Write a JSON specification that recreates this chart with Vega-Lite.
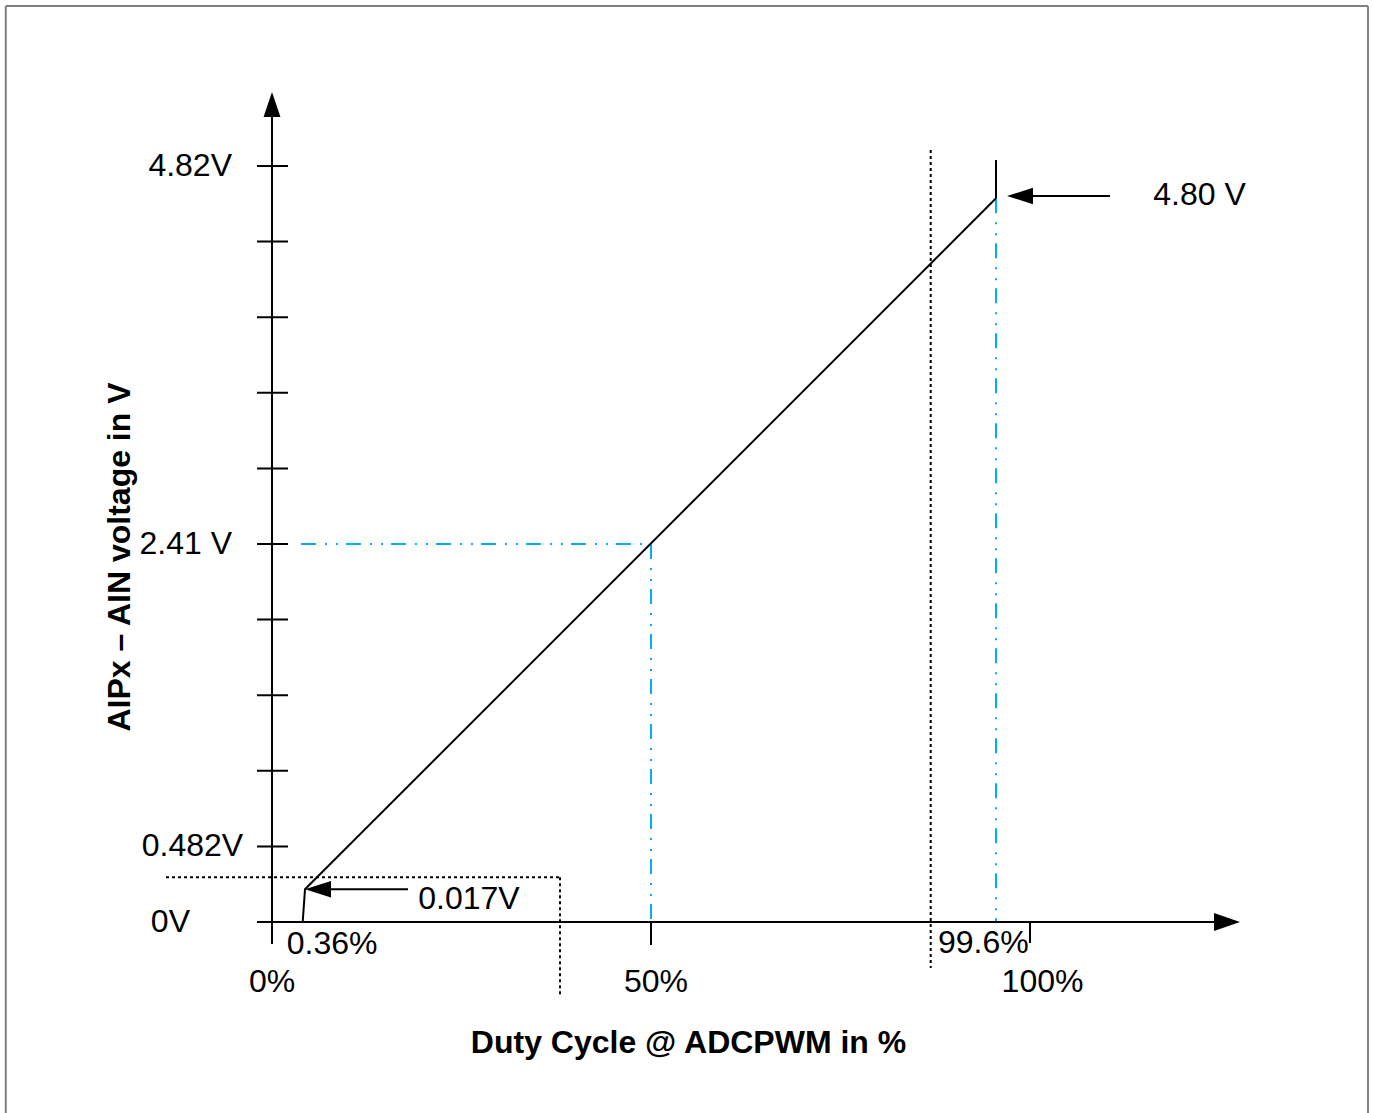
{
  "$schema": "https://vega.github.io/schema/vega-lite/v6.json",
  "width": 1373,
  "height": 1113,
  "padding": 0,
  "autosize": "none",
  "background": "white",
  "view": {"stroke": null},
  "config": {"text": {"font": "Liberation Sans"}},
  "datasets": {
    "frame": [
      {"x": -35.12, "y": 5.84, "x2": -35.12, "y2": -1.2177},
      {"x": -35.12, "y": 5.84, "x2": 144.59, "y2": 5.84},
      {"x": 144.59, "y": 5.84, "x2": 144.59, "y2": -1.2177}
    ],
    "solid": [
      {"x": 0, "y": -0.1403, "x2": 0, "y2": 5.25},
      {"x": -1.979, "y": 0, "x2": 126.9, "y2": 0},
      {"x": -1.979, "y": 0.482, "x2": 2.111, "y2": 0.482},
      {"x": -1.979, "y": 0.964, "x2": 2.111, "y2": 0.964},
      {"x": -1.979, "y": 1.446, "x2": 2.111, "y2": 1.446},
      {"x": -1.979, "y": 1.928, "x2": 2.111, "y2": 1.928},
      {"x": -1.979, "y": 2.41, "x2": 2.111, "y2": 2.41},
      {"x": -1.979, "y": 2.892, "x2": 2.111, "y2": 2.892},
      {"x": -1.979, "y": 3.374, "x2": 2.111, "y2": 3.374},
      {"x": -1.979, "y": 3.856, "x2": 2.111, "y2": 3.856},
      {"x": -1.979, "y": 4.338, "x2": 2.111, "y2": 4.338},
      {"x": -1.979, "y": 4.82, "x2": 2.111, "y2": 4.82},
      {"x": 50, "y": 0, "x2": 50, "y2": -0.1466},
      {"x": 100, "y": 0, "x2": 100, "y2": -0.134},
      {"x": 95.515, "y": 4.858, "x2": 95.515, "y2": 4.614},
      {"x": 110.55, "y": 4.6287, "x2": 99.0, "y2": 4.6287},
      {"x": 17.942, "y": 0.2085, "x2": 7.0, "y2": 0.2085}
    ],
    "curve": [
      {"i": 1, "x": 4.05, "y": 0},
      {"i": 2, "x": 4.354, "y": 0.2085},
      {"i": 3, "x": 95.515, "y": 4.614}
    ],
    "bluedash": [
      {"x": 3.826, "y": 2.41, "x2": 50, "y2": 2.41},
      {"x": 50, "y": 2.41, "x2": 50, "y2": 0},
      {"x": 95.515, "y": 4.614, "x2": 95.515, "y2": 0}
    ],
    "dotted": [
      {"x": -13.984, "y": 0.2849, "x2": 37.995, "y2": 0.2849},
      {"x": 37.995, "y": 0.2849, "x2": 37.995, "y2": -0.4782},
      {"x": 86.9, "y": 4.922, "x2": 86.9, "y2": -0.2933}
    ],
    "heads": [
      {"dir": "up", "x": 0, "y": 5.2918},
      {"dir": "right", "x": 127.704, "y": 0},
      {"dir": "left", "x": 96.966, "y": 4.6287},
      {"dir": "left", "x": 4.354, "y": 0.2085}
    ],
    "labels_right": [
      {"label": "4.82V", "x": -5.277, "y": 4.82},
      {"label": "2.41 V", "x": -5.277, "y": 2.41},
      {"label": "0.482V", "x": -3.8, "y": 0.482},
      {"label": "0V", "x": -10.818, "y": 0}
    ],
    "labels_left": [
      {"label": "0.36%", "x": 1.939, "y": -0.1403},
      {"label": "99.6%", "x": 87.86, "y": -0.1358},
      {"label": "4.80 V", "x": 116.27, "y": 4.635},
      {"label": "0.017V", "x": 19.3, "y": 0.1447}
    ],
    "labels_center": [
      {"label": "0%", "x": 0, "y": -0.3806},
      {"label": "50%", "x": 50.66, "y": -0.3806},
      {"label": "100%", "x": 101.65, "y": -0.3806}
    ],
    "xtitle": [
      {"label": "Duty Cycle @ ADCPWM in %", "x": 54.95, "y": -0.7715}
    ],
    "ytitle": [
      {"label": "AIPx – AIN voltage in V", "x": -20.05, "y": 2.327}
    ]
  },
  "encoding": {
    "x": {"field": "x", "type": "quantitative", "axis": null, "scale": {"domain": [-35.884, 145.251], "nice": false, "zero": false}},
    "y": {"field": "y", "type": "quantitative", "axis": null, "scale": {"domain": [-1.2177, 5.8784], "nice": false, "zero": false}}
  },
  "layer": [
    {
      "data": {"name": "frame"},
      "mark": {"type": "rule", "stroke": "#808080", "strokeWidth": 2},
      "encoding": {"x2": {"field": "x2"}, "y2": {"field": "y2"}}
    },
    {
      "data": {"name": "dotted"},
      "mark": {"type": "rule", "stroke": "black", "strokeWidth": 2, "strokeDash": [3, 3]},
      "encoding": {"x2": {"field": "x2"}, "y2": {"field": "y2"}}
    },
    {
      "data": {"name": "bluedash"},
      "mark": {"type": "rule", "stroke": "#00B0F0", "strokeWidth": 2, "strokeDash": [15, 9, 2, 9, 2, 8]},
      "encoding": {"x2": {"field": "x2"}, "y2": {"field": "y2"}}
    },
    {
      "data": {"name": "solid"},
      "mark": {"type": "rule", "stroke": "black", "strokeWidth": 2},
      "encoding": {"x2": {"field": "x2"}, "y2": {"field": "y2"}}
    },
    {
      "data": {"name": "curve"},
      "mark": {"type": "line", "stroke": "black", "strokeWidth": 2},
      "encoding": {"order": {"field": "i", "type": "quantitative"}}
    },
    {
      "data": {"name": "heads"},
      "mark": {"type": "point", "filled": true, "opacity": 1, "color": "black", "size": 676},
      "encoding": {
        "shape": {
          "field": "dir", "type": "nominal", "legend": null,
          "scale": {"domain": ["up", "right", "left"], "range": ["M0,0L0.65,1.92L-0.65,1.92Z", "M0,0L-2,-0.69L-2,0.69Z", "M0,0L2,-0.63L2,0.63Z"]}
        }
      }
    },
    {
      "data": {"name": "labels_right"},
      "mark": {"type": "text", "align": "right", "baseline": "middle", "fontSize": 32, "color": "black"},
      "encoding": {"text": {"field": "label"}}
    },
    {
      "data": {"name": "labels_left"},
      "mark": {"type": "text", "align": "left", "baseline": "middle", "fontSize": 32, "color": "black"},
      "encoding": {"text": {"field": "label"}}
    },
    {
      "data": {"name": "labels_center"},
      "mark": {"type": "text", "align": "center", "baseline": "middle", "fontSize": 32, "color": "black"},
      "encoding": {"text": {"field": "label"}}
    },
    {
      "data": {"name": "xtitle"},
      "mark": {"type": "text", "align": "center", "baseline": "middle", "fontSize": 32, "fontWeight": "bold", "color": "black"},
      "encoding": {"text": {"field": "label"}}
    },
    {
      "data": {"name": "ytitle"},
      "mark": {"type": "text", "align": "center", "baseline": "middle", "fontSize": 32, "fontWeight": "bold", "angle": 270, "color": "black"},
      "encoding": {"text": {"field": "label"}}
    }
  ]
}
